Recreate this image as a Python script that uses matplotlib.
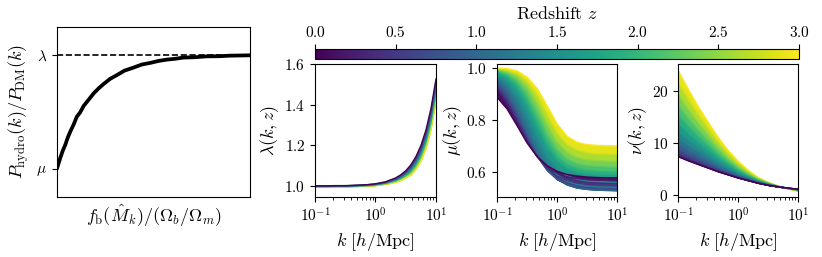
import numpy as np
import matplotlib
matplotlib.use("Agg")
import matplotlib.pyplot as plt
from matplotlib.colors import Normalize

plt.rcParams["font.family"] = "serif"
plt.rcParams["font.serif"] = ["cmr10"]
plt.rcParams["mathtext.fontset"] = "cm"
plt.rcParams["axes.formatter.use_mathtext"] = True
plt.rcParams["axes.unicode_minus"] = False

# left sketch panel: baryon fraction (0..1 of axis) vs suppression (mu=0, lambda=1)
sketch_x = [0.0, 0.008, 0.017, 0.03, 0.043, 0.056, 0.069, 0.086, 0.103, 0.12,
            0.138, 0.164, 0.19, 0.215, 0.241, 0.275, 0.31, 0.35, 0.397, 0.44,
            0.483, 0.525, 0.569, 0.61, 0.655, 0.715, 0.776, 0.84, 0.897, 1.0]
sketch_y = [0.0, 0.045, 0.094, 0.158, 0.21, 0.274, 0.327, 0.388, 0.459, 0.496,
            0.553, 0.608, 0.664, 0.707, 0.746, 0.792, 0.825, 0.865, 0.892, 0.919,
            0.933, 0.950, 0.962, 0.969, 0.98, 0.983, 0.991, 0.992, 0.997, 1.0]

k_nodes = [0.1, 0.147, 0.215, 0.316, 0.464, 0.681, 1.0, 1.468, 2.154, 3.162,
           4.642, 6.813, 10.0]
k_lam = [0.1, 0.147, 0.215, 0.316, 0.464, 0.681, 1.0, 1.468, 2.154, 2.61,
         3.162, 3.831, 4.642, 5.623, 6.813, 8.254, 10.0]

# lambda(k, z) for a few redshifts
z_lam = [0.0, 0.5, 1.0, 1.5, 2.0, 2.5, 3.0]
lam_rows = [
    [1.000, 1.000, 1.001, 1.001, 1.003, 1.005, 1.010, 1.020, 1.039, 1.054, 1.074, 1.103, 1.143, 1.198, 1.274, 1.380, 1.526],
    [0.999, 0.999, 1.000, 1.000, 1.002, 1.004, 1.009, 1.018, 1.035, 1.050, 1.068, 1.095, 1.133, 1.186, 1.259, 1.364, 1.509],
    [0.999, 0.999, 0.999, 0.999, 1.001, 1.003, 1.007, 1.016, 1.032, 1.045, 1.063, 1.087, 1.123, 1.173, 1.244, 1.347, 1.492],
    [0.998, 0.998, 0.999, 0.999, 1.000, 1.002, 1.006, 1.014, 1.029, 1.041, 1.057, 1.079, 1.113, 1.161, 1.230, 1.331, 1.476],
    [0.997, 0.997, 0.998, 0.998, 0.999, 1.001, 1.005, 1.012, 1.025, 1.036, 1.051, 1.070, 1.102, 1.148, 1.215, 1.314, 1.459],
    [0.997, 0.997, 0.997, 0.997, 0.998, 1.000, 1.003, 1.010, 1.022, 1.032, 1.046, 1.062, 1.092, 1.136, 1.200, 1.298, 1.442],
    [0.996, 0.996, 0.996, 0.996, 0.997, 0.999, 1.002, 1.008, 1.018, 1.027, 1.040, 1.054, 1.082, 1.123, 1.185, 1.281, 1.425],
]

# mu(k, z) and nu(k, z)
z_rows = [0.0, 0.25, 0.5, 0.75, 1.0, 1.25, 1.5, 1.75, 2.0, 2.25, 2.5, 2.75, 3.0]
mu_rows = [
    [0.888, 0.843, 0.779, 0.712, 0.659, 0.624, 0.602, 0.590, 0.584, 0.580, 0.578, 0.577, 0.577],
    [0.918, 0.863, 0.793, 0.720, 0.660, 0.619, 0.595, 0.581, 0.574, 0.570, 0.568, 0.567, 0.566],
    [0.930, 0.877, 0.806, 0.728, 0.660, 0.612, 0.583, 0.567, 0.559, 0.554, 0.552, 0.551, 0.551],
    [0.941, 0.892, 0.822, 0.738, 0.661, 0.606, 0.571, 0.552, 0.543, 0.538, 0.535, 0.534, 0.534],
    [0.952, 0.909, 0.843, 0.758, 0.674, 0.611, 0.571, 0.550, 0.538, 0.533, 0.530, 0.529, 0.528],
    [0.964, 0.928, 0.869, 0.787, 0.701, 0.632, 0.588, 0.563, 0.551, 0.545, 0.542, 0.541, 0.540],
    [0.974, 0.945, 0.895, 0.820, 0.734, 0.660, 0.612, 0.585, 0.572, 0.565, 0.563, 0.561, 0.560],
    [0.981, 0.960, 0.919, 0.853, 0.770, 0.694, 0.641, 0.612, 0.597, 0.590, 0.587, 0.586, 0.585],
    [0.987, 0.971, 0.938, 0.880, 0.800, 0.720, 0.662, 0.629, 0.613, 0.606, 0.602, 0.601, 0.600],
    [0.991, 0.979, 0.954, 0.905, 0.831, 0.750, 0.687, 0.650, 0.632, 0.624, 0.621, 0.619, 0.618],
    [0.994, 0.986, 0.968, 0.929, 0.863, 0.783, 0.715, 0.675, 0.655, 0.646, 0.643, 0.641, 0.640],
    [0.996, 0.991, 0.978, 0.948, 0.894, 0.818, 0.748, 0.704, 0.683, 0.673, 0.669, 0.668, 0.667],
    [1.000, 0.998, 0.990, 0.965, 0.922, 0.855, 0.785, 0.737, 0.714, 0.705, 0.702, 0.701, 0.700],
]
nu_rows = [
    [7.40, 6.60, 5.90, 5.20, 4.50, 3.90, 3.30, 2.80, 2.30, 1.90, 1.60, 1.35, 1.15],
    [7.59, 6.76, 6.03, 5.30, 4.58, 3.95, 3.34, 2.82, 2.31, 1.91, 1.60, 1.35, 1.15],
    [8.06, 7.14, 6.34, 5.55, 4.76, 4.09, 3.43, 2.88, 2.34, 1.92, 1.61, 1.35, 1.14],
    [8.76, 7.73, 6.82, 5.93, 5.04, 4.29, 3.56, 2.97, 2.39, 1.95, 1.61, 1.34, 1.12],
    [9.69, 8.50, 7.44, 6.42, 5.41, 4.55, 3.74, 3.08, 2.45, 1.98, 1.62, 1.34, 1.10],
    [10.81, 9.43, 8.20, 7.02, 5.86, 4.87, 3.96, 3.21, 2.53, 2.02, 1.63, 1.33, 1.07],
    [12.14, 10.53, 9.09, 7.73, 6.40, 5.25, 4.22, 3.37, 2.62, 2.07, 1.64, 1.32, 1.04],
    [13.65, 11.79, 10.11, 8.54, 7.00, 5.68, 4.51, 3.56, 2.72, 2.13, 1.66, 1.31, 1.01],
    [15.35, 13.20, 11.25, 9.44, 7.68, 6.17, 4.84, 3.76, 2.83, 2.19, 1.67, 1.30, 0.97],
    [17.23, 14.77, 12.52, 10.44, 8.43, 6.70, 5.21, 3.99, 2.96, 2.26, 1.69, 1.29, 0.93],
    [19.28, 16.46, 13.89, 11.54, 9.25, 7.28, 5.60, 4.24, 3.09, 2.33, 1.71, 1.28, 0.88],
    [21.51, 18.31, 15.39, 12.72, 10.14, 7.92, 6.04, 4.51, 3.24, 2.41, 1.73, 1.26, 0.83],
    [23.90, 20.30, 17.00, 14.00, 11.10, 8.60, 6.50, 4.80, 3.40, 2.50, 1.75, 1.25, 0.78],
]

cmap = plt.get_cmap("viridis")
norm = Normalize(vmin=0.0, vmax=3.0)


# draws one family of curves, highest redshift first so z=0 ends on top;
# the gap between two neighbouring curves is shaded with their mean colour
def draw_family(ax, k, z_vals, rows):
    for i in reversed(range(len(rows))):
        if i < len(rows) - 1:
            c = cmap(norm(0.5 * (z_vals[i] + z_vals[i + 1])))
            ax.fill_between(k, rows[i], rows[i + 1], facecolor=c,
                            edgecolor=c, linewidth=0.6)
        ax.plot(k, rows[i], color=cmap(norm(z_vals[i])), lw=1.0)


def style_k_axis(ax, ylabel):
    ax.set_xscale("log")
    ax.set_xlim(0.1, 10)
    ax.set_xlabel(r"$k\ [h/{\rm Mpc}]$", fontsize=13)
    ax.set_ylabel(ylabel, fontsize=13, labelpad=2)
    ax.tick_params(labelsize=11)


fig = plt.figure(figsize=(8.22, 2.57), dpi=100)

# sketch of the model
ax0 = fig.add_axes([0.0693, 0.2335, 0.2348, 0.6615])
ax0.axhline(1.0, color="k", ls="--", lw=1.2)
ax0.plot(sketch_x, sketch_y, color="k", lw=2.7, solid_capstyle="round")
ax0.set_xlim(0, 1)
ax0.set_ylim(-0.25, 1.25)
ax0.set_xticks([])
ax0.set_yticks([0, 1])
ax0.set_yticklabels([r"$\mu$", r"$\lambda$"], fontsize=11)
ax0.set_xlabel(r"$f_{\rm b}(\hat{M}_k)/(\Omega_b/\Omega_m)$", fontsize=13)
ax0.set_ylabel(r"$P_{\rm hydro}(k)/P_{\rm DM}(k)$", fontsize=13)

ax1 = fig.add_axes([0.3832, 0.2335, 0.1472, 0.5175])
draw_family(ax1, k_lam, z_lam, lam_rows)
style_k_axis(ax1, r"$\lambda(k,z)$")
ax1.set_ylim(0.945, 1.6)
ax1.set_yticks([1.0, 1.2, 1.4, 1.6])

ax2 = fig.add_axes([0.6046, 0.2335, 0.146, 0.5175])
draw_family(ax2, k_nodes, z_rows, mu_rows)
style_k_axis(ax2, r"$\mu(k,z)$")
ax2.set_ylim(0.503, 1.016)
ax2.set_yticks([0.6, 0.8, 1.0])

ax3 = fig.add_axes([0.8248, 0.2335, 0.146, 0.5175])
draw_family(ax3, k_nodes, z_rows, nu_rows)
style_k_axis(ax3, r"$\nu(k,z)$")
ax3.set_ylim(-0.35, 25.1)
ax3.set_yticks([0, 10, 20])

# shared redshift colour bar on top
cax = fig.add_axes([0.3832, 0.7693, 0.5888, 0.0389])
sm = plt.cm.ScalarMappable(norm=norm, cmap=cmap)
cb = fig.colorbar(sm, cax=cax, orientation="horizontal")
cax.xaxis.set_ticks_position("top")
cax.xaxis.set_label_position("top")
cb.set_label(r"Redshift $z$", fontsize=13, labelpad=4)
cb.set_ticks([0.0, 0.5, 1.0, 1.5, 2.0, 2.5, 3.0])
cax.tick_params(labelsize=11)

fig.savefig("out.png", dpi=100)
